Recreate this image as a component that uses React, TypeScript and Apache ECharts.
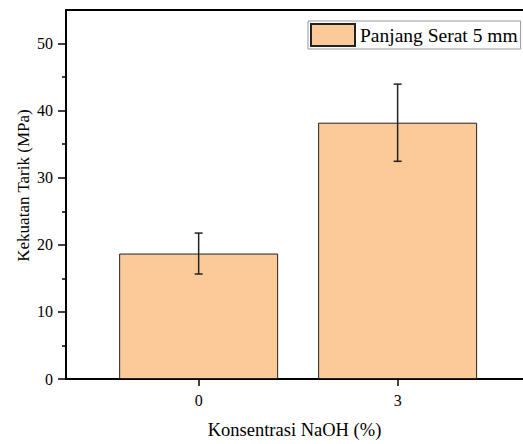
import React, { useEffect, useRef } from "react";
import * as echarts from "echarts";

const categories = [0, 3];
const strengthValues = [18.7, 38.2];
const strengthErrors = [3.05, 5.75];
const yMajorTicks = [0, 10, 20, 30, 40, 50];
const yMinorTicks = [5, 15, 25, 35, 45];
const seriesName = "Panjang Serat 5 mm";

const FONT = "'Liberation Serif', 'Times New Roman', serif";

export default function App() {
  const ref = useRef<HTMLDivElement>(null);
  useEffect(() => {
    if (!ref.current) return;
    const chart = echarts.init(ref.current, undefined, { renderer: "svg" });
    const barData = categories.map((c, i) => [c, strengthValues[i]]);
    const errData = categories.map((c, i) => [
      c,
      strengthValues[i] - strengthErrors[i],
      strengthValues[i] + strengthErrors[i],
    ]);
    const xCommon = { type: "value", min: -2, max: 4.89 };
    chart.setOption({
      animation: false,
      textStyle: { fontFamily: FONT },
      grid: { left: 66, right: 0, top: 10, bottom: 60 },
      legend: {
        data: [seriesName],
        left: 308,
        top: 21,
        orient: "horizontal",
        itemWidth: 44,
        itemHeight: 22,
        padding: [2, 3, 2, 2],
        borderColor: "#999",
        borderWidth: 1,
        borderRadius: 0,
        icon: "rect",
        textStyle: { fontFamily: FONT, fontSize: 19.5, color: "#000" },
      },
      xAxis: [
        {
          ...xCommon,
          position: "bottom",
          name: "Konsentrasi NaOH (%)",
          nameLocation: "middle",
          nameGap: 41,
          nameMoveOverlap: false,
          nameTextStyle: { fontFamily: FONT, fontSize: 18.5, color: "#000" },
          axisLine: { show: true, onZero: false, lineStyle: { color: "#000", width: 2 } },
          axisTick: { show: true, customValues: categories, length: 7, lineStyle: { color: "#000", width: 1.5 } },
          axisLabel: { customValues: categories, fontFamily: FONT, fontSize: 16, color: "#000", margin: 13 },
          splitLine: { show: false },
        },
        {
          ...xCommon,
          position: "top",
          axisLine: { show: true, onZero: false, lineStyle: { color: "#000", width: 2 } },
          axisTick: { show: false },
          axisLabel: { show: false },
          splitLine: { show: false },
        },
      ],
      yAxis: [
        {
          type: "value",
          min: 0,
          max: 55,
          position: "left",
          name: "Kekuatan Tarik (MPa)",
          nameLocation: "middle",
          nameGap: 34,
          nameMoveOverlap: false,
          nameTextStyle: { fontFamily: FONT, fontSize: 17, color: "#000", padding: [0, 0, 0, 18] },
          axisLine: { show: true, onZero: false, lineStyle: { color: "#000", width: 2 } },
          axisTick: { show: true, customValues: yMajorTicks, length: 8, lineStyle: { color: "#000", width: 1.5 } },
          axisLabel: { customValues: yMajorTicks, fontFamily: FONT, fontSize: 16, color: "#000", margin: 13 },
          splitLine: { show: false },
        },
        {
          type: "value",
          min: 0,
          max: 55,
          position: "left",
          offset: 0,
          axisLine: { show: false, onZero: false },
          axisTick: { show: true, customValues: yMinorTicks, length: 4, lineStyle: { color: "#000", width: 1.5 } },
          axisLabel: { show: false },
          splitLine: { show: false },
        },
      ],
      series: [
        {
          name: seriesName,
          type: "bar",
          barWidth: 159,
          data: barData,
          itemStyle: { color: "#FCC998", borderColor: "#222", borderWidth: 1 },
        },
        {
          name: "err",
          type: "custom",
          data: errData,
          z: 10,
          renderItem: (params: any, api: any) => {
            const x = api.value(0);
            const lo = api.coord([x, api.value(1)]);
            const hi = api.coord([x, api.value(2)]);
            const cap = 4;
            const style = { stroke: "#222", lineWidth: 1.5 };
            return {
              type: "group",
              children: [
                { type: "line", shape: { x1: lo[0], y1: lo[1], x2: hi[0], y2: hi[1] }, style },
                { type: "line", shape: { x1: hi[0] - cap, y1: hi[1], x2: hi[0] + cap, y2: hi[1] }, style },
                { type: "line", shape: { x1: lo[0] - cap, y1: lo[1], x2: lo[0] + cap, y2: lo[1] }, style },
              ],
            };
          },
        },
      ],
    });
    return () => chart.dispose();
  }, []);
  return (
    <div
      ref={ref}
      style={{ position: "fixed", left: 0, top: 0, width: 523, height: 444, background: "#fff" }}
    />
  );
}
